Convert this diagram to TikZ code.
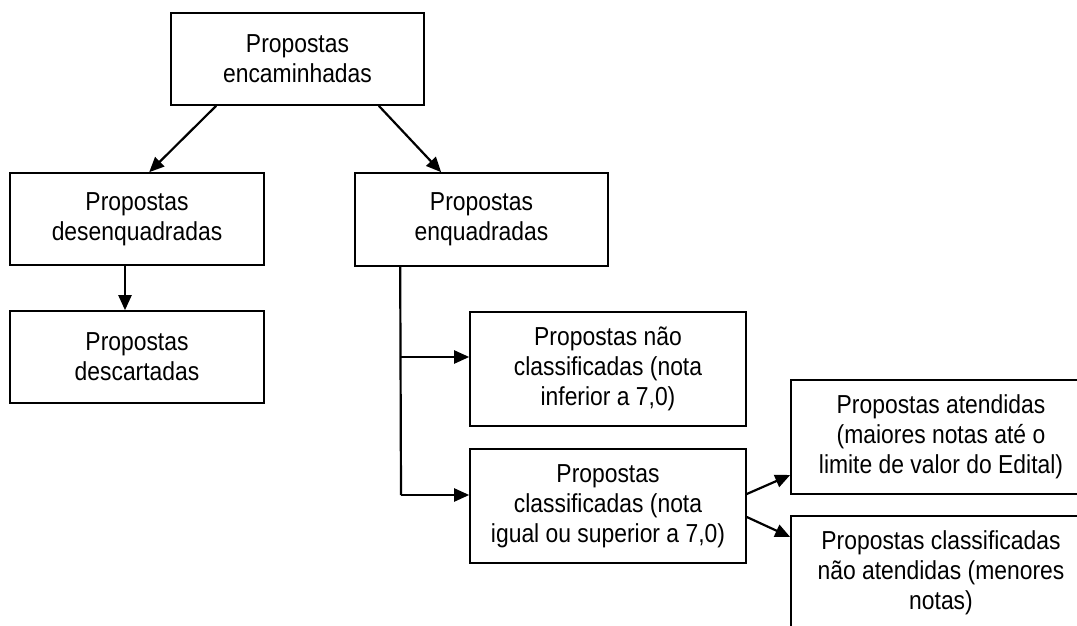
\documentclass[tikz,border=0pt]{standalone}
\usepackage{fontspec}
\setmainfont{Liberation Sans}[FakeStretch=0.88]
\usetikzlibrary{arrows.meta}

\begin{document}
\begin{tikzpicture}
	[x=1pt,y=-1pt,
	caixa/.style={draw,line width=1.6pt,align=center,inner sep=0pt,
		font=\fontsize{26}{30}\selectfont},
	seta/.style={line width=2.2pt,-{Triangle[length=15pt,width=13pt]}}]
	
	\useasboundingbox (0,0) rectangle (1077,626);
	\clip (0,0) rectangle (1077,626);
	
	\node[caixa,minimum width=253pt,minimum height=92pt] (encaminhadas) at (297.5,59) {Propostas\\encaminhadas};
	\node[caixa,minimum width=254pt,minimum height=92pt] (desenq) at (137,219) {Propostas\\desenquadradas};
	\node[caixa,minimum width=253pt,minimum height=93pt] (enq) at (481.5,219.5) {Propostas\\enquadradas};
	\node[caixa,minimum width=254pt,minimum height=92pt] (descartadas) at (137,357) {Propostas\\descartadas};
	\node[caixa,minimum width=276pt,minimum height=114pt] (naoclass) at (608,369) {Propostas não\\classificadas (nota\\inferior a 7,0)};
	\node[caixa,minimum width=276pt,minimum height=114pt] (class) at (608,506) {Propostas\\classificadas (nota\\igual ou superior a 7,0)};
	\node[caixa,minimum width=300pt,minimum height=114pt] (atendidas) at (941,437) {Propostas atendidas\\(maiores notas até o\\limite de valor do Edital)};
	\node[caixa,minimum width=300pt,minimum height=114pt] (naoatend) at (941,573) {Propostas classificadas\\não atendidas (menores\\notas)};
	
	\draw[seta] ([xshift=46pt]encaminhadas.south west) -- ([xshift=140pt]desenq.north west);
	\draw[seta] ([xshift=-46pt]encaminhadas.south east) -- ([xshift=87pt]enq.north west);
	\draw[seta] ([xshift=-12pt]desenq.south) -- ([xshift=-12pt]descartadas.north);
	
	\coordinate (tronco) at ([xshift=46pt]enq.south west);
	\coordinate (ramo1) at (401,357);
	\coordinate (ramo2) at (401,495);
	\draw[line width=2.2pt] (tronco) -- (ramo2);
	\draw[seta] (ramo1) -- (ramo1 -| naoclass.west);
	\draw[seta] (ramo2) -- (ramo2 -| class.west);
	
	\draw[seta] ([yshift=12pt]class.east) -- ([yshift=-38pt]atendidas.west);
	\draw[seta] ([yshift=-11pt]class.east) -- ([yshift=36pt]naoatend.west);
	
\end{tikzpicture}
\end{document}
